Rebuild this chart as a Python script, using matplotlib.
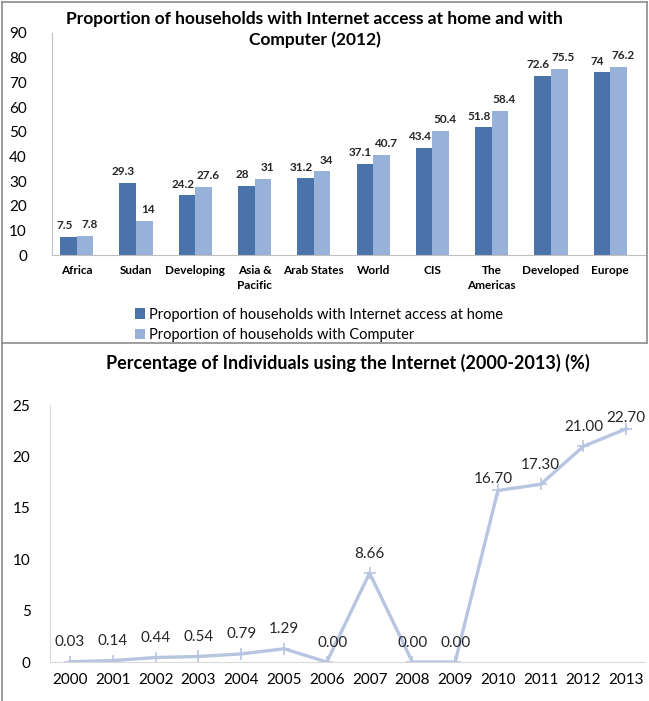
import matplotlib.pyplot as plt
import numpy as np
from matplotlib.lines import Line2D

# data - top chart
regions = ['Africa', 'Sudan', 'Developing', 'Asia &\nPacific', 'Arab States',
           'World', 'CIS', 'The\nAmericas', 'Developed', 'Europe']
internet_home = [7.5, 29.3, 24.2, 28, 31.2, 37.1, 43.4, 51.8, 72.6, 74]
computer = [7.8, 14, 27.6, 31, 34, 40.7, 50.4, 58.4, 75.5, 76.2]

# data - bottom chart
years = [2000, 2001, 2002, 2003, 2004, 2005, 2006, 2007, 2008, 2009, 2010, 2011, 2012, 2013]
internet_users = [0.03, 0.14, 0.44, 0.54, 0.79, 1.29, 0.00, 8.66, 0.00, 0.00, 16.70, 17.30, 21.00, 22.70]

dark_blue = '#4A73AB'
light_blue = '#98B1D9'
line_col = '#B7C5E1'
grid_col = '#BFBFBF'

plt.rcParams['font.family'] = ['Lato', 'DejaVu Sans']

fig = plt.figure(figsize=(6.49, 7.01), dpi=100)

# ---- top chart ----
ax1 = fig.add_axes([0.080, 0.636, 0.915, 0.317])
x = np.arange(len(regions))
w = 0.28
ax1.bar(x - w / 2, internet_home, w, color=dark_blue,
        label='Proportion of households with Internet access at home')
ax1.bar(x + w / 2, computer, w, color=light_blue,
        label='Proportion of households with Computer')
for i in range(len(regions)):
    ax1.annotate(f'{internet_home[i]:g}', (x[i] - w / 2, internet_home[i]), xytext=(-3, 4),
                 textcoords='offset points', ha='center', va='bottom',
                 fontsize=8.5, fontweight='bold', color='#262626')
    ax1.annotate(f'{computer[i]:g}', (x[i] + w / 2, computer[i]), xytext=(3, 4),
                 textcoords='offset points', ha='center', va='bottom',
                 fontsize=8.5, fontweight='bold', color='#262626')
ax1.set_xlim(-0.42, 9.6)
ax1.set_ylim(0, 90)
ax1.set_yticks(range(0, 91, 10))
ax1.set_xticks(x)
ax1.set_xticklabels(regions, fontsize=8.5, fontweight='bold', linespacing=1.5)
ax1.tick_params(axis='y', labelsize=11, length=0, pad=18)
ax1.tick_params(axis='x', length=0, pad=7)
for s in ['top', 'right']:
    ax1.spines[s].set_visible(False)
ax1.spines['left'].set_color(grid_col)
ax1.spines['bottom'].set_color(grid_col)
fig.text(0.485, 0.958, 'Proportion of households with Internet access at home and with\nComputer (2012)',
         fontsize=12.5, fontweight='bold', ha='center', va='center', linespacing=1.35)
ax1.legend(loc='upper center', bbox_to_anchor=(0.45, -0.21), frameon=False,
           fontsize=10.5, handlelength=0.7, handleheight=0.7, handletextpad=0.3,
           labelspacing=0.45, borderaxespad=0)

# ---- bottom chart ----
ax2 = fig.add_axes([0.077, 0.0556, 0.917, 0.3664])
ax2.plot(years, internet_users, color=line_col, lw=2.4, marker='+', ms=8, mew=1.2)
# label offsets (points) to follow the reference placement
label_dx = [0, 0, 0, 0, 0, 0, 4, 0, 0, 0, -3, 0, 0, 0]
label_dy = [9, 9, 9, 9, 9, 9, 9, 9, 9, 9, 3, 9, 9, 3]
for yr, v, dx, dy in zip(years, internet_users, label_dx, label_dy):
    ax2.annotate(f'{v:.2f}', (yr, v), xytext=(dx, dy), textcoords='offset points',
                 ha='center', va='bottom', fontsize=11, color='#262626')
ax2.set_xlim(1999.53, 2013.44)
ax2.set_ylim(0, 25)
ax2.set_yticks(range(0, 26, 5))
ax2.set_xticks(years)
ax2.tick_params(axis='both', labelsize=11, length=0)
ax2.tick_params(axis='y', pad=14)
ax2.tick_params(axis='x', pad=8)
for s in ['top', 'right']:
    ax2.spines[s].set_visible(False)
ax2.spines['left'].set_color('#D9D9D9')
ax2.spines['bottom'].set_color('#D9D9D9')
ax2.set_title('Percentage of Individuals using the Internet (2000-2013) (%)',
              fontsize=13, fontweight='bold', pad=26)

# panel frames
frame_kw = dict(color='#8C8C8C', lw=1.2, transform=fig.transFigure)
fig.add_artist(Line2D([0.003, 0.997], [0.997, 0.997], **frame_kw))
fig.add_artist(Line2D([0.003, 0.003], [0.0, 0.997], **frame_kw))
fig.add_artist(Line2D([0.997, 0.997], [0.51, 0.997], **frame_kw))
fig.add_artist(Line2D([0.003, 0.997], [0.51, 0.51], **frame_kw))

plt.savefig('out.png', dpi=100)
